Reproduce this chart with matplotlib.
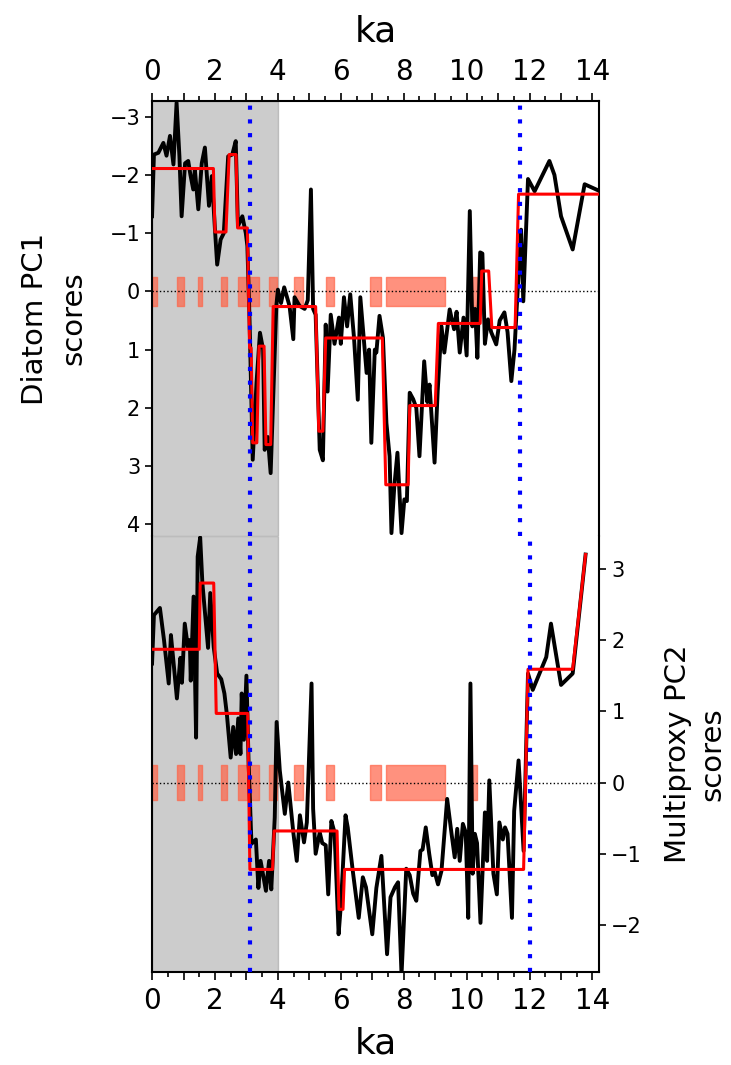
import numpy as np
import matplotlib
matplotlib.use("Agg")
import matplotlib.pyplot as plt
from matplotlib.ticker import MultipleLocator, FuncFormatter

# Diatom PC1 (panel superior)
ka_pc1 = [0.00, 0.06, 0.20, 0.36, 0.46, 0.57, 0.68, 0.78, 0.87, 0.94, 1.05, 1.15, 1.22, 1.31,
          1.36, 1.47, 1.58, 1.68, 1.81, 1.90, 2.00, 2.07, 2.18, 2.28, 2.42, 2.55, 2.66, 2.73,
          2.87, 2.98, 3.03, 3.10, 3.20, 3.32, 3.43, 3.53, 3.58, 3.68, 3.77, 3.84, 3.95, 4.00,
          4.10, 4.20, 4.37, 4.49, 4.53, 4.69, 4.85, 4.95, 5.05, 5.12, 5.20, 5.33, 5.43, 5.52,
          5.58, 5.68, 5.80, 5.94, 6.00, 6.10, 6.20, 6.30, 6.42, 6.54, 6.62, 6.82, 6.90, 6.97,
          7.08, 7.13, 7.23, 7.34, 7.45, 7.55, 7.61, 7.70, 7.80, 7.93, 8.02, 8.10, 8.19, 8.30,
          8.40, 8.50, 8.65, 8.75, 8.82, 8.98, 9.08, 9.20, 9.29, 9.46, 9.60, 9.68, 9.78, 9.90,
          10.00, 10.10, 10.18, 10.27, 10.34, 10.43, 10.50, 10.58, 10.68, 10.78, 10.94, 11.05,
          11.20, 11.30, 11.42, 11.52, 11.63, 11.73, 11.80, 11.95, 12.16, 12.63, 12.79, 13.00,
          13.37, 13.75, 14.20]
pc1 = [-1.29, -2.35, -2.38, -2.55, -2.33, -2.67, -2.18, -3.24, -2.32, -1.29, -2.20, -2.24, -2.00, -1.75,
       -2.10, -1.41, -2.20, -2.47, -1.47, -1.98, -1.06, -0.46, -0.89, -1.00, -2.32, -2.35, -2.58, -1.12,
       -1.29, -1.00, -0.78, 0.50, 2.89, 1.57, 0.71, 1.00, 2.72, 2.50, 3.12, 2.00, 0.25, -0.03,
       0.20, -0.07, 0.25, 0.82, 0.10, 0.25, 0.30, 0.15, -1.75, 0.30, 0.40, 2.72, 2.90, 0.57,
       1.72, 0.40, 0.90, 0.45, 0.90, 0.10, 0.60, 0.05, 0.80, 1.86, 0.10, 1.40, 1.00, 2.60,
       1.00, 1.05, 0.42, 0.80, 2.26, 2.83, 4.15, 3.35, 2.77, 4.15, 3.57, 3.60, 1.74, 1.85,
       2.00, 2.83, 1.20, 1.90, 1.60, 2.94, 1.70, 0.60, 1.05, 0.31, 0.65, 0.35, 1.05, 0.45,
       1.10, -1.38, 0.60, 0.30, 1.14, -0.67, -0.65, 0.90, 0.48, 0.70, 0.91, 0.50,
       0.36, 0.70, 1.54, 1.00, -0.10, -1.06, 0.17, -1.93, -1.72, -2.24, -2.00, -1.29,
       -0.72, -1.84, -1.73]

# segmentos (inicio, fin, media) PC1
seg_pc1 = [(0.00, 1.95, -2.11), (2.00, 2.35, -1.02), (2.45, 2.67, -2.35), (2.72, 3.03, -1.09),
           (3.10, 3.15, 0.97), (3.20, 3.33, 2.60), (3.40, 3.56, 0.94), (3.62, 3.77, 2.63),
           (3.85, 5.20, 0.26), (5.30, 5.43, 2.40), (5.52, 7.32, 0.80), (7.43, 8.14, 3.32),
           (8.19, 9.00, 1.96), (9.10, 10.43, 0.55), (10.48, 10.70, -0.35), (10.80, 11.54, 0.62),
           (11.65, 14.20, -1.67)]

# Multiproxy PC2 (panel inferior)
ka_pc2 = [0.00, 0.06, 0.25, 0.38, 0.53, 0.60, 0.68, 0.79, 0.90, 0.95, 1.04, 1.14, 1.20, 1.23,
          1.32, 1.40, 1.45, 1.53, 1.60, 1.78, 1.85, 1.96, 2.07, 2.20, 2.30, 2.38, 2.50, 2.58,
          2.67, 2.74, 2.81, 2.85, 2.92, 3.00, 3.07, 3.16, 3.30, 3.38, 3.45, 3.62, 3.72, 3.79,
          3.90, 3.96, 4.06, 4.22, 4.33, 4.49, 4.60, 4.70, 4.83, 4.92, 5.07, 5.12, 5.20, 5.33,
          5.41, 5.52, 5.60, 5.70, 5.80, 5.93, 6.01, 6.15, 6.22, 6.38, 6.57, 6.70, 6.80, 7.00,
          7.13, 7.29, 7.47, 7.58, 7.72, 7.82, 7.93, 8.08, 8.19, 8.30, 8.40, 8.53, 8.60, 8.70,
          8.81, 8.91, 8.98, 9.09, 9.20, 9.38, 9.52, 9.62, 9.70, 9.78, 9.88, 9.97, 10.05, 10.12,
          10.19, 10.26, 10.33, 10.44, 10.58, 10.65, 10.72, 10.85, 10.96, 11.04, 11.15, 11.22,
          11.30, 11.44, 11.51, 11.65, 11.81, 11.95, 12.10, 12.53, 12.68, 13.00, 13.37, 13.78]
pc2 = [1.67, 2.35, 2.45, 2.00, 1.39, 2.07, 1.70, 1.18, 1.75, 1.40, 2.23, 1.90, 2.00, 1.43,
       2.61, 0.63, 3.17, 3.44, 2.80, 1.89, 2.66, 1.90, 1.53, 1.45, 1.25, 0.95, 0.35, 0.78,
       0.40, 0.90, 0.40, 1.25, 0.60, 1.50, 0.26, -0.86, -0.80, -1.48, -1.10, -1.52, -1.10, -1.50,
       -0.49, 0.85, 0.17, -0.44, 0.00, -0.70, -1.10, -0.46, -0.84, -0.56, 1.39, -0.37, -1.00, -0.70,
       -0.85, -0.88, -1.57, -0.54, -0.70, -2.13, -1.67, -0.46, -0.63, -1.24, -1.90, -1.33, -1.47, -2.13,
       -1.48, -1.03, -2.41, -1.61, -1.47, -1.40, -2.70, -1.21, -1.30, -1.56, -1.66, -0.96, -0.94, -0.63,
       -1.00, -1.30, -1.25, -1.43, -1.24, -0.23, -0.72, -1.05, -0.65, -1.10, -0.58, -0.70, -1.90, 1.39,
       -1.28, -0.72, -0.85, -1.97, -0.42, -1.10, 0.03, -1.28, -1.57, -0.56, -0.80, -0.63,
       -0.72, -1.90, -0.40, 0.31, -0.96, 1.53, 1.30, 1.76, 2.23, 1.37, 1.53, 3.20]

seg_pc2 = [(0.00, 1.50, 1.87), (1.53, 1.96, 2.80), (2.04, 3.04, 0.97), (3.11, 3.83, -1.22),
           (3.88, 5.88, -0.68), (5.94, 6.07, -1.78), (6.12, 11.81, -1.22), (11.95, 13.37, 1.59),
           (13.78, 13.78, 3.20)]

# intervalos marcados (barras rojas en y=0)
barras = [(0.00, 0.17), (0.78, 1.03), (1.45, 1.60), (2.20, 2.39), (2.72, 3.05), (3.08, 3.40),
          (3.72, 3.97), (4.50, 4.80), (5.52, 5.78), (6.94, 7.27), (7.45, 9.30), (10.18, 10.33)]

lim_pc1 = (4.2, -3.27)
lim_pc2 = (-2.66, 3.46)
cambios_pc1 = [3.1, 11.7]
cambios_pc2 = [3.1, 12.0]


def escalones(seg):
    xs, ys = [], []
    for a, b, m in seg:
        xs += [a, b]
        ys += [m, m]
    return xs, ys


fig = plt.figure(figsize=(7.31, 10.65), dpi=100)
ax1 = fig.add_axes([0.208, 0.4967, 0.612, 0.4085])
ax2 = fig.add_axes([0.208, 0.0873, 0.612, 0.4094])

for ax, ka, val, seg, cambios in [(ax1, ka_pc1, pc1, seg_pc1, cambios_pc1),
                                 (ax2, ka_pc2, pc2, seg_pc2, cambios_pc2)]:
    ax.axvspan(0, 4, color="gray", alpha=0.4, zorder=0)
    ax.broken_barh([(a, b - a) for a, b in barras], (-0.25, 0.5),
                   facecolor="tomato", edgecolor="tomato", alpha=0.7, lw=1, zorder=1)
    ax.axhline(0, color="k", ls=":", lw=1, zorder=1)
    ax.plot(ka, val, color="k", lw=2.8, zorder=2)
    sx, sy = escalones(seg)
    ax.plot(sx, sy, color="red", lw=2.2, zorder=3)
    for c in cambios:
        ax.axvline(c, color="blue", lw=3, dashes=(1, 2.3), zorder=4)
    ax.set_xlim(0, 14.22)
    ax.xaxis.set_major_locator(MultipleLocator(1))
    ax.xaxis.set_minor_locator(MultipleLocator(0.5))
    ax.xaxis.set_major_formatter(FuncFormatter(lambda v, p: "%d" % v if int(round(v)) % 2 == 0 else ""))
    ax.tick_params(axis="x", which="major", labelsize=20, length=6, width=1.2, pad=5)
    ax.tick_params(axis="x", which="minor", length=3.5, width=1.2)
    ax.tick_params(axis="y", labelsize=15, length=5, width=1.2)
    for s in ax.spines.values():
        s.set_linewidth(1.5)

ax1.set_ylim(*lim_pc1)
ax1.yaxis.set_major_locator(MultipleLocator(1))
ax1.spines["bottom"].set_visible(False)
ax1.xaxis.tick_top()
ax1.xaxis.set_label_position("top")
ax1.set_xlabel("ka", fontsize=26, labelpad=12)
ax1.set_ylabel("Diatom PC1\nscores", fontsize=21, labelpad=16, linespacing=1.45)

ax2.set_ylim(*lim_pc2)
ax2.yaxis.set_major_locator(MultipleLocator(1))
ax2.spines["top"].set_visible(False)
ax2.yaxis.tick_right()
ax2.yaxis.set_label_position("right")
ax2.set_xlabel("ka", fontsize=26, labelpad=8)
ax2.set_ylabel("Multiproxy PC2\nscores", fontsize=21, labelpad=16, linespacing=1.3)

fig.savefig("out.png", dpi=100)
